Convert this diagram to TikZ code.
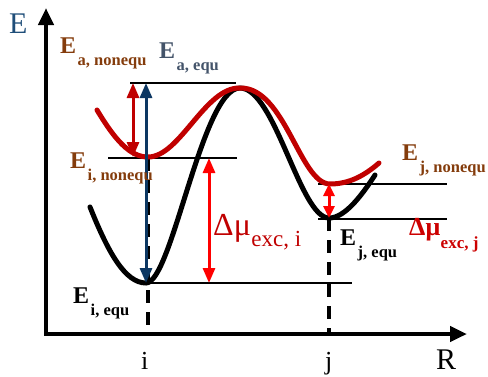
\documentclass[tikz,border=0pt]{standalone}
\usepackage{fontspec}
\setmainfont{Liberation Serif}
\usetikzlibrary{arrows.meta}
\definecolor{ebrown}{RGB}{132,60,12}
\definecolor{eslate}{RGB}{68,84,106}
\definecolor{axisblue}{RGB}{31,78,121}
\definecolor{navy}{RGB}{12,55,98}
\definecolor{darkred}{RGB}{192,0,0}
\definecolor{brightred}{RGB}{255,0,0}
\definecolor{mured}{RGB}{204,0,0}
\newcommand\lsub[1]{\kern1.5pt\raisebox{-12pt}{\fontsize{16.5}{16.5}\selectfont #1}}
\tikzset{
  axisline/.style={line width=4.5pt,line join=miter,{Triangle[width=15pt,length=17pt]}-{Triangle[width=15pt,length=17pt]}},
  curveline/.style={line width=5pt,line cap=round},
  levelline/.style={line width=1.5pt},
  dblarrow/.style={line width=3pt,{Triangle[width=12pt,length=15pt]}-{Triangle[width=12pt,length=15pt]}},
  smallarrow/.style={line width=3pt,{Triangle[width=11pt,length=12pt]}-{Triangle[width=11pt,length=12pt]}},
  dashv/.style={line width=4pt,dash pattern=on 13pt off 9pt},
  elbl/.style={anchor=base west,inner sep=0pt,font=\bfseries\fontsize{24}{24}\selectfont},
  axlbl/.style={anchor=base west,inner sep=0pt,font=\fontsize{30}{30}\selectfont},
}
\begin{document}
\begin{tikzpicture}[x=1pt,y=-1pt]
\useasboundingbox (0,0) rectangle (488,376);
% key points
\coordinate (O) at (46,334);
\coordinate (Ytip) at (46,8);
\coordinate (Xtip) at (467,334);
\coordinate (minI) at (146,283);
\coordinate (minJ) at (329,218);
\coordinate (nminI) at (148,157);
\coordinate (nminJ) at (330,184);
\coordinate (top) at (240,88);
% level lines
\coordinate (t1) at (130,83);   \coordinate (t2) at (236,83);
\coordinate (n1) at (108,158);  \coordinate (n2) at (237,158);
\coordinate (e1) at (146,283);  \coordinate (e2) at (352,283);
\coordinate (jn1) at (318,184); \coordinate (jn2) at (447,184);
\coordinate (je1) at (318,219); \coordinate (je2) at (447,219);
\draw[levelline] (t1) -- (t2);
\draw[levelline] (n1) -- (n2);
\draw[levelline] (e1) -- (e2);
\draw[levelline] (jn1) -- (jn2);
\draw[levelline] (je1) -- (je2);
% dashed verticals
\coordinate (di1) at (148,158); \coordinate (di2) at (148,334);
\coordinate (dj1) at (329,218); \coordinate (dj2) at (329,334);
\draw[dashv] (di1) -- (di2);
\draw[dashv] (dj1) -- (dj2);
% axes
\draw[axisline] (Ytip) -- (O) -- (Xtip);
% black curve
\coordinate (bs) at (90,207);
\coordinate (be) at (375,175);
\draw[curveline,black] (bs) .. controls (108,252) and (125,283) .. (minI)
  .. controls (172,283) and (202,88) .. (top)
  .. controls (275,88) and (300,218) .. (minJ)
  .. controls (345,218) and (362,195) .. (be);
% red curve
\coordinate (rs) at (97,110);
\coordinate (re) at (379,163);
\draw[curveline,darkred] (rs) .. controls (115,140) and (130,157) .. (nminI)
  .. controls (180,157) and (205,87) .. (top)
  .. controls (285,87) and (300,184) .. (nminJ)
  .. controls (350,184) and (365,175) .. (re);
% arrows
\coordinate (a1t) at (133,83);  \coordinate (a1b) at (133,157);
\coordinate (a2t) at (146,83);  \coordinate (a2b) at (146,283);
\coordinate (a3t) at (209,158); \coordinate (a3b) at (209,283);
\coordinate (a4t) at (329,184); \coordinate (a4b) at (329,218);
\draw[dblarrow,darkred] (a1t) -- (a1b);
\draw[dblarrow,navy] (a2t) -- (a2b);
\draw[dblarrow,brightred] (a3t) -- (a3b);
\draw[smallarrow,brightred] (a4t) -- (a4b);
% labels
\node[axlbl,text=axisblue] (lE) at (9,33) {E};
\node[axlbl] (lR) at (436,369) {R};
\node[axlbl,font=\fontsize{26}{26}\selectfont] (li) at (141,369) {i};
\node[axlbl,font=\fontsize{26}{26}\selectfont] (lj) at (325,369) {j};
\node[elbl,text=ebrown] (lan) at (60,53) {E\lsub{a, nonequ}};
\node[elbl,text=eslate] (lae) at (159,58) {E\lsub{a, equ}};
\node[elbl,text=ebrown] (lin) at (70,168) {E\lsub{i, nonequ}};
\node[elbl,text=black] (lie) at (73,303) {E\lsub{i, equ}};
\node[elbl,text=black] (lje) at (340,245) {E\lsub{j, equ}};
\node[elbl,text=ebrown] (ljn) at (402,160) {E\lsub{j, nonequ}};
\node[anchor=base west,inner sep=0pt,text=darkred,font=\fontsize{32}{32}\selectfont] (lmi) at (213,235)
  {Δμ\kern0.5pt\raisebox{-11pt}{\fontsize{23}{23}\selectfont exc, i}};
\node[anchor=base west,inner sep=0pt,text=mured,font=\bfseries\fontsize{26}{26}\selectfont] (lmj) at (409,235)
  {Δμ\kern0.5pt\raisebox{-13pt}{\fontsize{17}{17}\selectfont exc, j}};
\end{tikzpicture}
\end{document}
